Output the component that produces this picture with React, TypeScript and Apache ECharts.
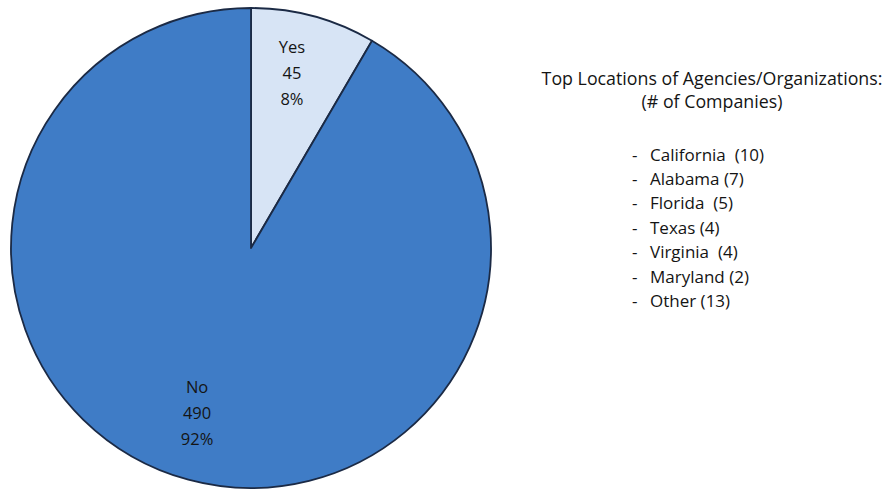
import React, { useEffect, useRef } from "react";
import * as echarts from "echarts";

const categories = ["Yes", "No"];
const values = [45, 490];
const colors = ["#D7E4F5", "#3F7CC6"];
const locationNames = ["California ", "Alabama", "Florida ", "Texas", "Virginia ", "Maryland", "Other"];
const locationCounts = [10, 7, 5, 4, 4, 2, 13];
const legendTitle = ["Top Locations of Agencies/Organizations:", "(# of Companies)"];

export default function App() {
  const ref = useRef<HTMLDivElement>(null);
  useEffect(() => {
    const chart = echarts.init(ref.current!, undefined, { renderer: "svg" });
    const font = "'Open Sans', sans-serif";
    const data = categories.map((c, i) => ({ name: c, value: values[i], itemStyle: { color: colors[i] } }));
    const labelOffsets = [[-5, -6], [-8, -5]];
    const cx = 251, cy = 248, r = 240;
    const graphics: any[] = [];
    legendTitle.forEach((t, i) => {
      graphics.push({
        type: "text",
        x: 712,
        y: 78 + i * 23,
        style: { text: t, font: `17.8px ${font}`, fill: "#141414", textAlign: "center", textVerticalAlign: "middle" },
      });
    });
    locationNames.forEach((n, i) => {
      const y = 154 + i * 24.4;
      graphics.push({
        type: "text",
        x: 632,
        y,
        style: { text: "-", font: `17px ${font}`, fill: "#141414", textVerticalAlign: "middle" },
      });
      graphics.push({
        type: "text",
        x: 650,
        y,
        style: { text: `${n} (${locationCounts[i]})`, font: `17px ${font}`, fill: "#141414", textVerticalAlign: "middle" },
      });
    });
    chart.setOption({
      animation: false,
      backgroundColor: "#ffffff",
      series: [
        {
          type: "pie",
          center: [cx, cy],
          radius: [0, r],
          startAngle: 90,
          clockwise: true,
          silent: true,
          label: { show: false },
          labelLine: { show: false },
          itemStyle: { borderColor: "#1B2A45", borderWidth: 1.8 },
          data,
        },
        {
          type: "pie",
          center: [cx, cy],
          radius: [r * 0.44, r],
          startAngle: 90,
          clockwise: true,
          silent: true,
          percentPrecision: 0,
          itemStyle: { color: "rgba(0,0,0,0)", borderWidth: 0 },
          label: {
            show: true,
            position: "inside",
            formatter: "{b}\n{c}\n{d}%",
            fontFamily: font,
            fontSize: 16.5,
            lineHeight: 26,
            color: "#141414",
          },
          labelLine: { show: false },
          data: categories.map((c, i) => ({ name: c, value: values[i], label: { offset: labelOffsets[i] } })),
        },
      ],
      graphic: graphics,
    });
    return () => chart.dispose();
  }, []);
  return <div ref={ref} style={{ position: "fixed", left: 0, top: 0, width: 887, height: 493 }} />;
}
